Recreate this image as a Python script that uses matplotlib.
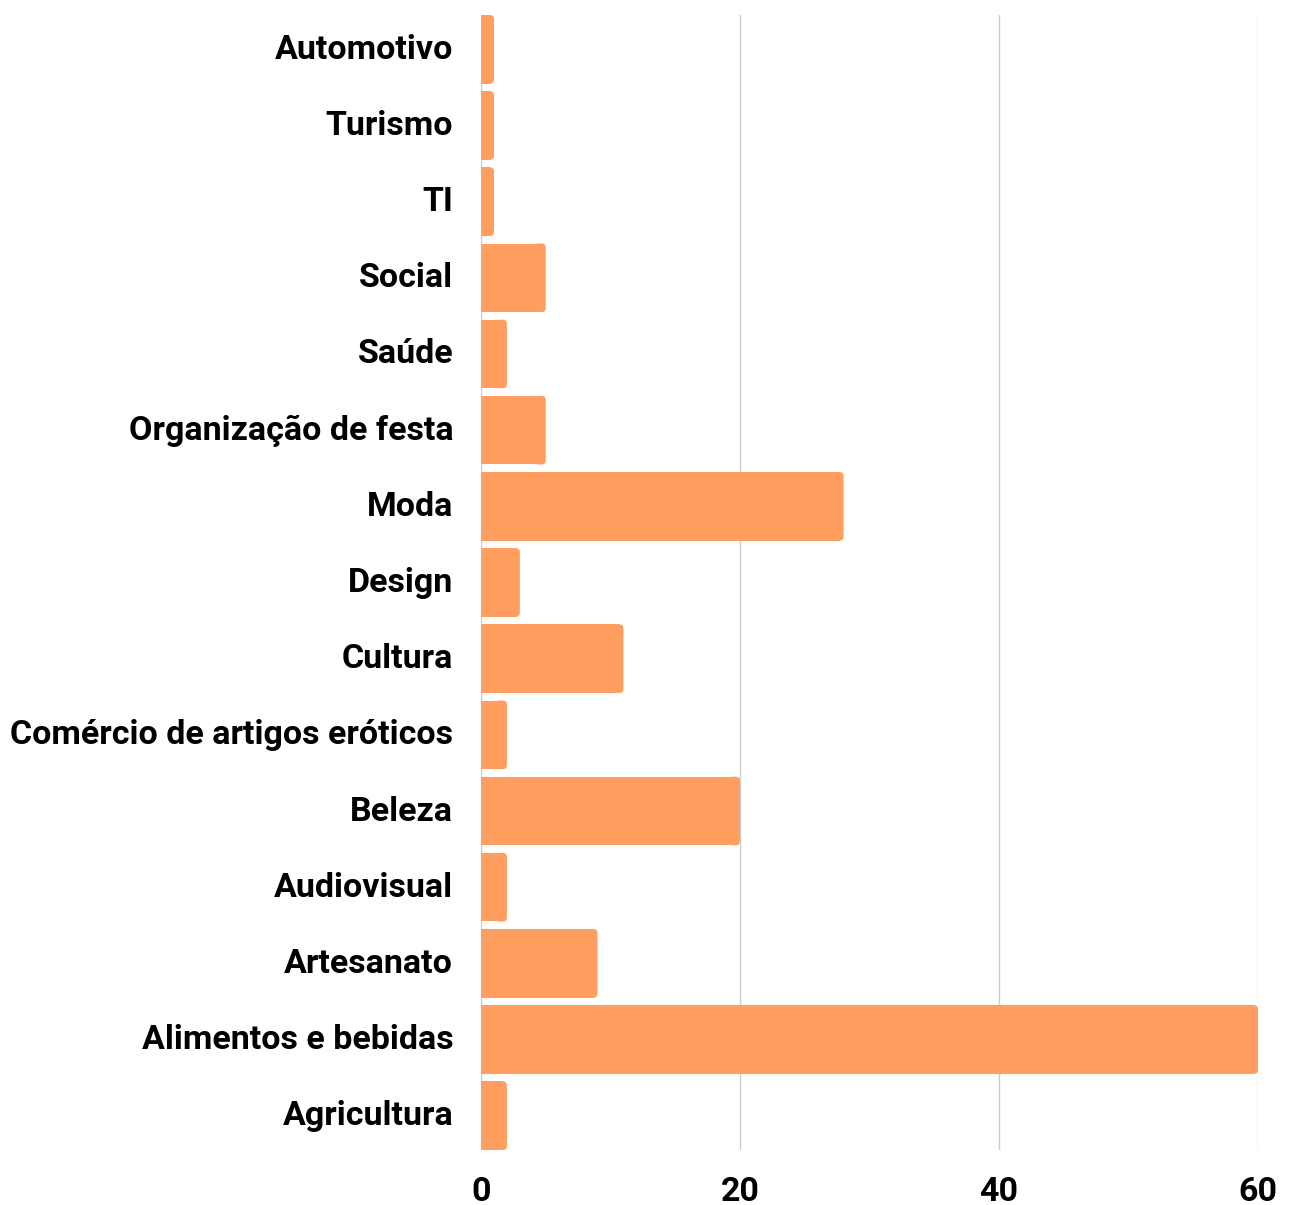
import matplotlib.pyplot as plt
from matplotlib.patches import FancyBboxPatch
from matplotlib.transforms import ScaledTranslation

# data (top to bottom)
categories = ['Automotivo', 'Turismo', 'TI', 'Social', 'Saúde', 'Organização de festa',
              'Moda', 'Design', 'Cultura', 'Comércio de artigos eróticos', 'Beleza',
              'Audiovisual', 'Artesanato', 'Alimentos e bebidas', 'Agricultura']
counts = [1, 1, 1, 5, 2, 5, 28, 3, 11, 2, 20, 2, 9, 60, 2]
x_ticks = [0, 20, 40, 60]

bar_color = '#ff9e5f'
bar_h = 0.9

plt.rcParams['font.family'] = ['Roboto', 'DejaVu Sans']

fig = plt.figure(figsize=(12.9, 12.05), dpi=100)
ax = fig.add_axes([481 / 1290, 1 - 1150 / 1205, (1258 - 481) / 1290, (1150 - 15) / 1205])

ypos = list(range(len(categories)))
ax.set_xlim(0, 60)
ax.set_ylim(len(categories) - 1 + bar_h / 2, -bar_h / 2)

# rounded right corners: ~4 px radius
px_x = ax.bbox.width / 60
px_y = ax.bbox.height / (len(categories) - 1 + bar_h)
r = 4 / px_x
aspect = px_x / px_y

for y, v in zip(ypos, counts):
    ax.barh(y, v - r, height=bar_h, color=bar_color, zorder=3)
    ax.add_patch(FancyBboxPatch((v - 3 * r, y - bar_h / 2), 3 * r, bar_h,
                                boxstyle=f'round,pad=0,rounding_size={r}',
                                mutation_aspect=aspect,
                                facecolor=bar_color, edgecolor='none', zorder=3))

ax.set_yticks(ypos)
ax.set_yticklabels(categories, fontsize=24.5, fontweight='bold')
ax.set_xticks(x_ticks)
ax.set_xticklabels([str(t) for t in x_ticks], fontsize=24.5, fontweight='bold')
ax.tick_params(axis='both', length=0)
ax.tick_params(axis='y', pad=20)
ax.tick_params(axis='x', pad=19)

# nudge category labels up a little
shift = ScaledTranslation(0, 3 / 100, fig.dpi_scale_trans)
for lbl in ax.get_yticklabels():
    lbl.set_transform(lbl.get_transform() + shift)

ax.grid(axis='x', color='#cccccc', linewidth=1, zorder=0)
for s in ax.spines.values():
    s.set_visible(False)

fig.savefig('out.png', dpi=100)
